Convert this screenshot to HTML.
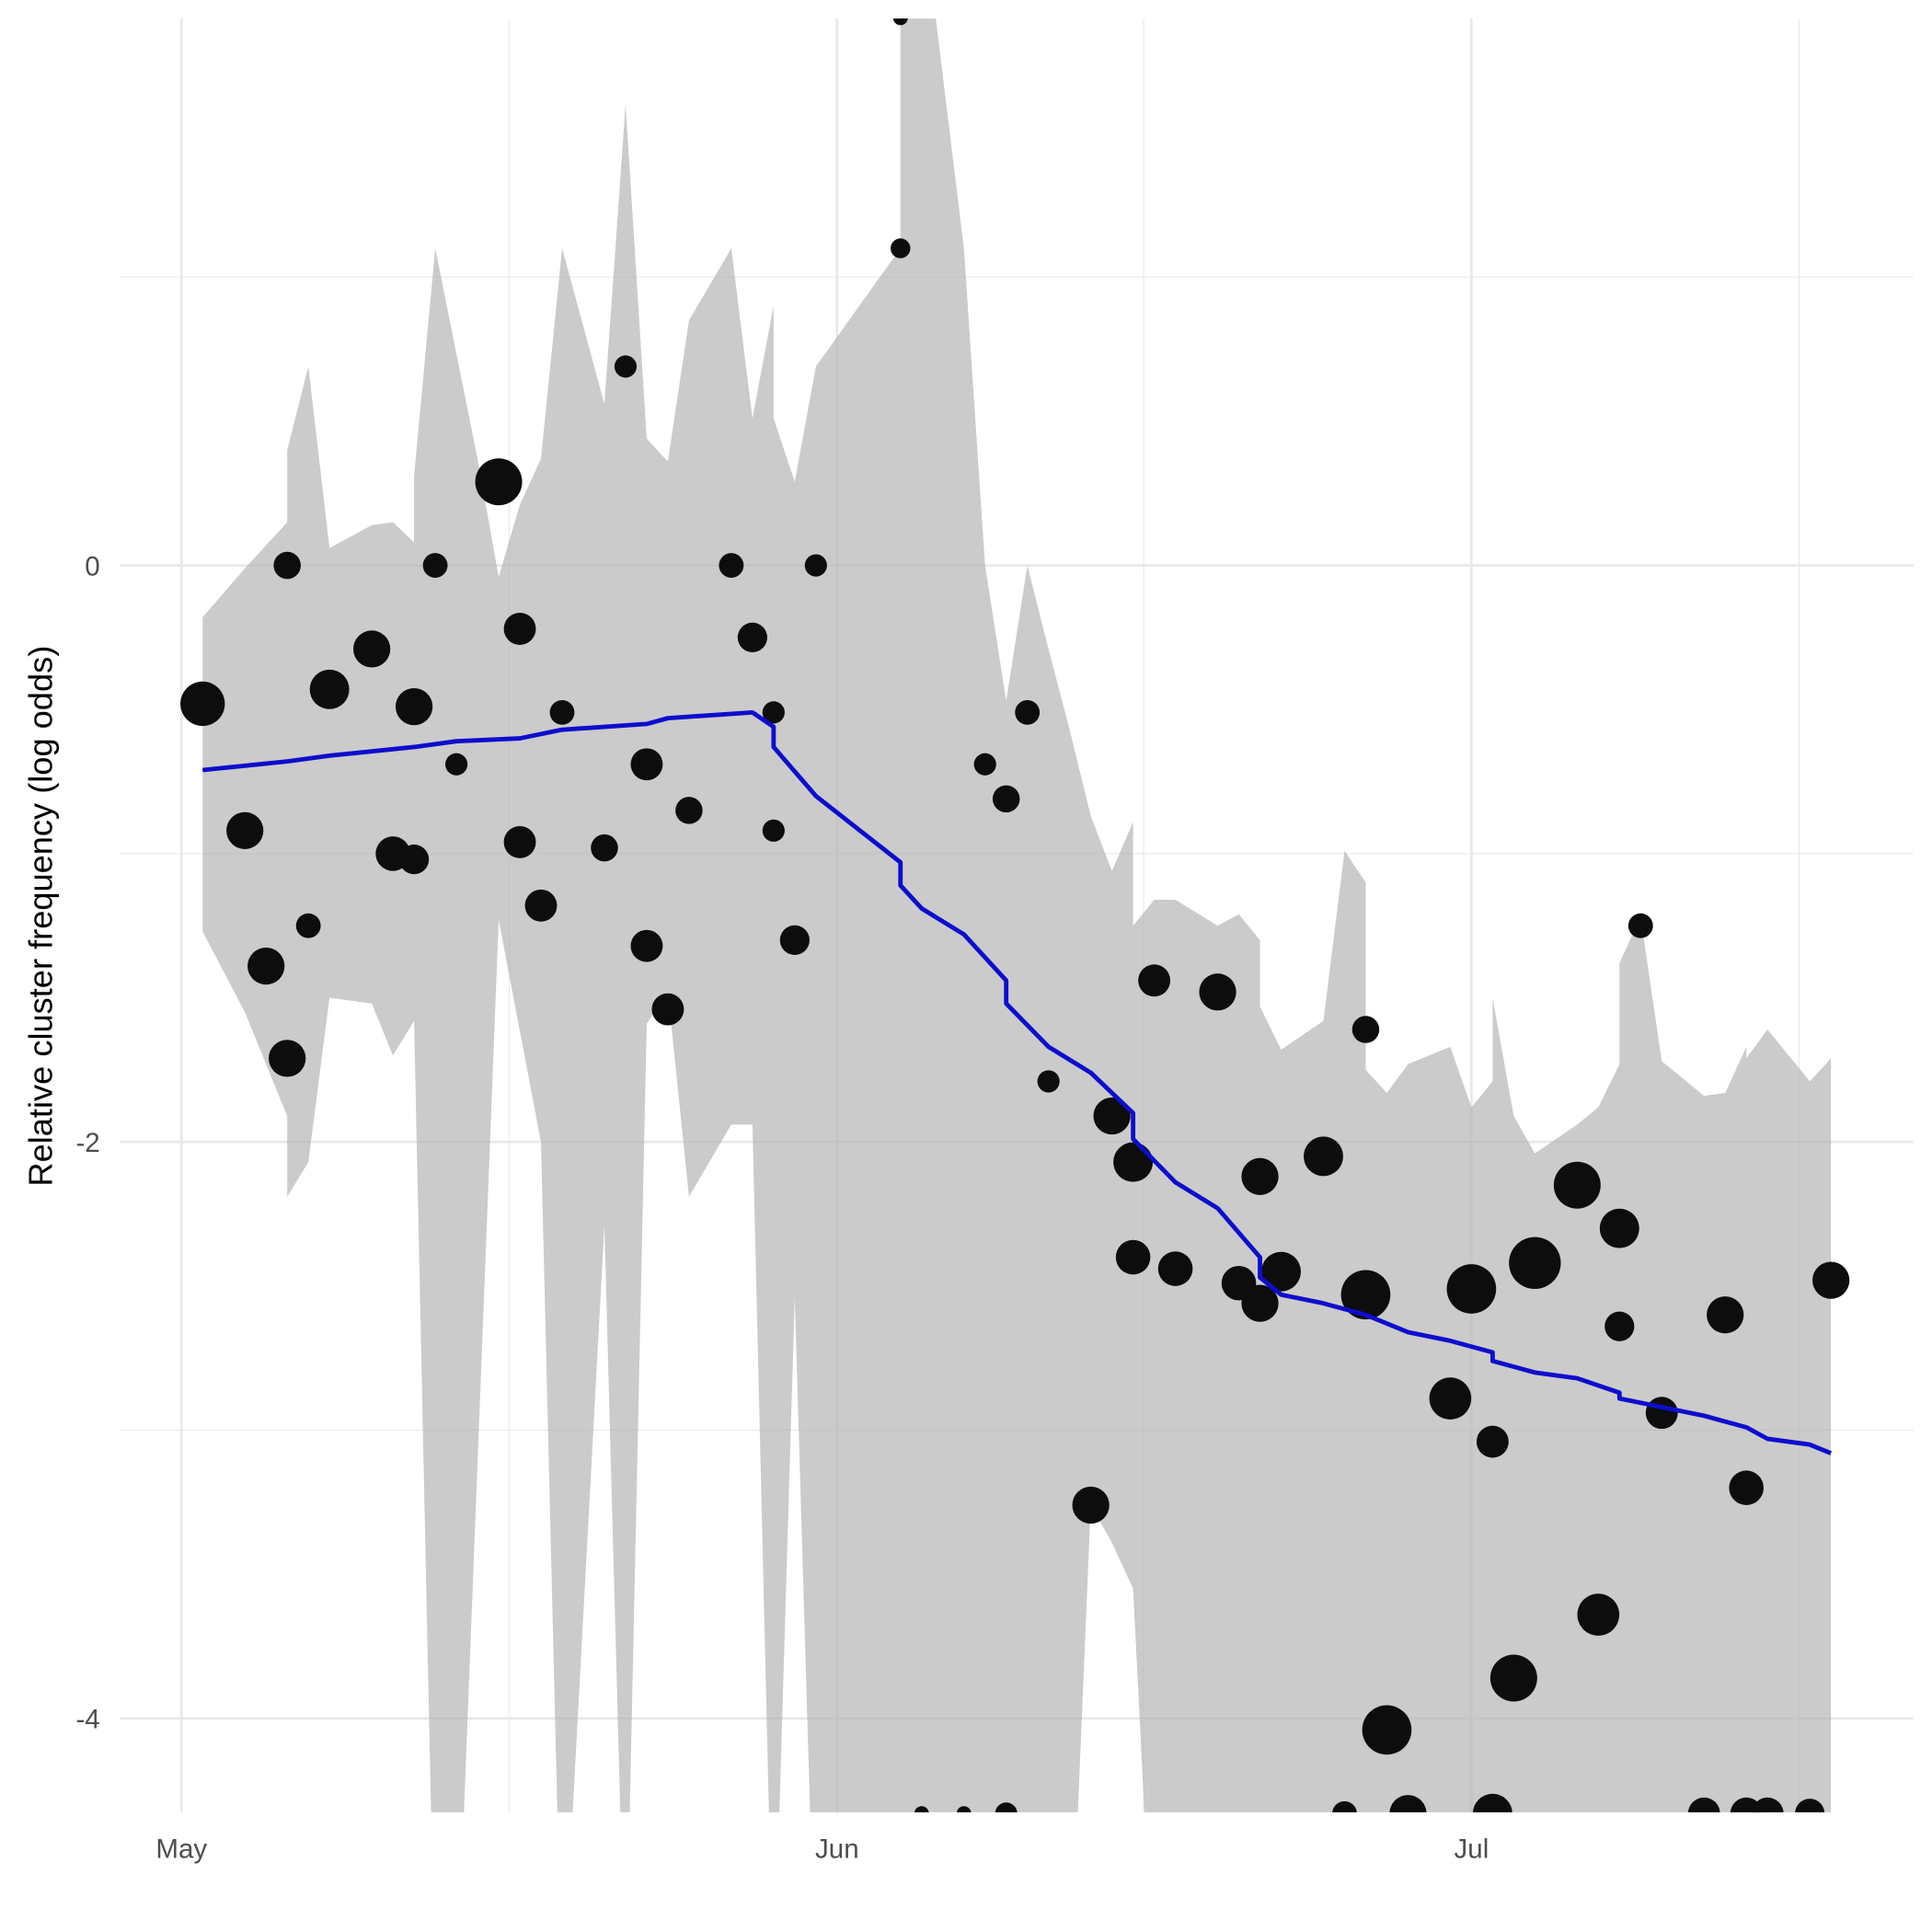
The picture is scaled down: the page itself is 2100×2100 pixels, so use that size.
<!DOCTYPE html>
<html><head><meta charset="utf-8"><style>
html,body{margin:0;padding:0;background:#fff;}
svg{display:block;}
text{font-family:"Liberation Sans",Arial,sans-serif;}
</style></head><body>
<svg id="chart" width="2100" height="2100" viewBox="0 0 1565 1565" xmlns="http://www.w3.org/2000/svg">
<defs><clipPath id="panel"><rect x="97" y="15" width="1453" height="1453"/></clipPath></defs>
<g id="grid"></g>
<g id="marks" clip-path="url(#panel)"></g>
<g id="axes"></g>
<text transform="translate(42,742) rotate(-90)" text-anchor="middle" font-size="27" fill="#000">Relative cluster frequency (log odds)</text>
</svg>
<script>
// ribbon (day, value)
const ribUpDays = [1,3,5,5,6,7,9,10,11,11,12,14,15,16,17,18,20,21,22,23,24,26,27,28,28,29,30,34,34,35,37,38,39,40,41,42,43,44,45,45,46,47,49,50,51,51,52,54,55,56,56,57,58,60,61,62,62,63,64,66,67,68,68,69,70,72,73,74,74,75,77,78];
const ribUpVals = [-0.18,-0.01,0.15,0.40,0.69,0.06,0.14,0.15,0.08,0.31,1.10,0.37,-0.04,0.21,0.37,1.10,0.56,1.60,0.44,0.36,0.85,1.10,0.51,0.90,0.51,0.29,0.69,1.10,2.3,2.3,1.10,0,-0.47,0,-0.29,-0.57,-0.87,-1.06,-0.89,-1.25,-1.16,-1.16,-1.25,-1.21,-1.30,-1.53,-1.68,-1.58,-0.99,-1.10,-1.75,-1.83,-1.73,-1.67,-1.88,-1.79,-1.50,-1.91,-2.04,-1.94,-1.88,-1.73,-1.38,-1.22,-1.72,-1.84,-1.83,-1.67,-1.71,-1.61,-1.79,-1.71];
const ribLoDays = [1,3,5,5,6,7,9,10,11,12,13,15,17,18,20,21,22,23,24,26,27,28,29,30,31,42,43,44,45,46,78];
const ribLoVals = [-1.27,-1.55,-1.91,-2.19,-2.07,-1.50,-1.52,-1.70,-1.58,-5,-5,-1.23,-2.0,-5,-2.29,-5,-1.59,-1.48,-2.19,-1.94,-1.94,-5,-2.54,-5,-5,-5,-3.26,-3.39,-3.55,-5,-5];
// observed points
const ptDays = [1,3,4,5,5,6,7,9,10,11,11,12,13,15,16,16,17,18,20,21,22,22,23,24,26,27,28,28,29,30,34,34,35,37,38,39,39,40,41,43,44,45,45,46,47,49,50,51,51,52,54,55,56,56,57,58,60,61,62,62,63,64,66,67,68,68,69,70,72,73,74,74,75,77,78];
const ptVals = [-0.48,-0.92,-1.39,0,-1.71,-1.25,-0.43,-0.29,-1.0,-0.49,-1.02,0,-0.69,0.29,-0.22,-0.96,-1.18,-0.51,-0.98,0.69,-0.69,-1.32,-1.54,-0.85,0,-0.25,-0.51,-0.92,-1.30,0,1.9,1.1,-4.33,-4.33,-0.69,-0.81,-4.33,-0.51,-1.79,-3.26,-1.91,-2.07,-2.40,-1.44,-2.44,-1.48,-2.49,-2.12,-2.56,-2.45,-2.05,-4.33,-1.61,-2.53,-4.04,-4.33,-2.89,-2.51,-3.04,-4.33,-3.86,-2.42,-2.15,-3.64,-2.30,-2.64,-1.25,-2.94,-4.33,-2.60,-3.20,-4.33,-4.33,-4.33,-2.48];
const ptSizes = [18,15,15,11,15,10,16,15,14,15,12,10,9,19,13,13,13,10,11,9,13,13,13,11,10,12,9,9,12,9,6,8,6,6,9,11,9,10,9,15,15,16,14,13,14,15,14,15,15,16,16,10,11,20,20,15,17,20,13,16,19,21,19,17,16,12,10,13,13,15,14,13,13,12,15];
// fitted line
const fitDays = [1,5,7,11,13,16,18,22,23,27,28,28,30,34,34,35,37,39,39,41,43,45,45,47,49,51,51,52,54,56,58,60,62,62,64,66,68,68,70,72,74,75,77,78];
const fitVals = [-0.71,-0.68,-0.66,-0.63,-0.61,-0.60,-0.57,-0.55,-0.53,-0.51,-0.56,-0.63,-0.80,-1.03,-1.11,-1.19,-1.28,-1.44,-1.52,-1.67,-1.76,-1.90,-1.99,-2.14,-2.23,-2.40,-2.47,-2.53,-2.56,-2.60,-2.66,-2.69,-2.73,-2.76,-2.80,-2.82,-2.87,-2.89,-2.92,-2.95,-2.99,-3.03,-3.05,-3.08];
const xTickDays = [0,31,61];
const xTickLabels = ["May","Jun","Jul"];
const xMinorDays = [15.5,45.5,76.5];
const yTicks = [0,-2,-4];
const yMinor = [1,-1,-3];

const NS="http://www.w3.org/2000/svg";
function X(d){return 147+d*17.13;}
function Y(v){return 458-v*233.5;}
function mk(tag,attrs,parent){const e=document.createElementNS(NS,tag);for(const k in attrs)e.setAttribute(k,attrs[k]);parent.appendChild(e);return e;}
const grid=document.getElementById('grid'),marks=document.getElementById('marks'),axes=document.getElementById('axes');
yMinor.forEach(v=>{const l=mk('line',{x1:97,x2:1550,y1:Y(v),y2:Y(v),stroke:'#ebebeb','stroke-width':1},grid);

});
xMinorDays.forEach(d=>{const l=mk('line',{x1:X(d),x2:X(d),y1:15,y2:1468,stroke:'#ebebeb','stroke-width':1},grid);

});
yTicks.forEach(v=>{const l=mk('line',{x1:97,x2:1550,y1:Y(v),y2:Y(v),stroke:'#e8e8e8','stroke-width':2},grid);


const t=mk('text',{x:81,y:Y(v)+8,'text-anchor':'end','font-size':22,fill:'#4d4d4d'},axes);t.textContent=String(v);

});
xTickDays.forEach((d,i)=>{const l=mk('line',{x1:X(d),x2:X(d),y1:15,y2:1468,stroke:'#e8e8e8','stroke-width':2},grid);


const t=mk('text',{x:X(d),y:1505,'text-anchor':'middle','font-size':22,fill:'#4d4d4d'},axes);t.textContent=xTickLabels[i];

});
// ribbon
let pts=ribUpDays.map((d,i)=>X(d)+','+Y(ribUpVals[i]));
for(let i=ribLoDays.length-1;i>=0;i--)pts.push(X(ribLoDays[i])+','+Y(ribLoVals[i]));
const rib=mk('polygon',{points:pts.join(' '),fill:'#b3b3b3','fill-opacity':0.68},marks);


// points
ptDays.forEach((d,i)=>{const c=mk('circle',{cx:X(d),cy:Y(ptVals[i]),r:ptSizes[i],fill:'#0d0d0d'},marks);

});
// fit line
const fl=mk('polyline',{points:fitDays.map((d,i)=>X(d)+','+Y(fitVals[i])).join(' '),fill:'none',stroke:'#0d0dcd','stroke-width':3.6,'stroke-linejoin':'round'},marks);


</script>
</body></html>
